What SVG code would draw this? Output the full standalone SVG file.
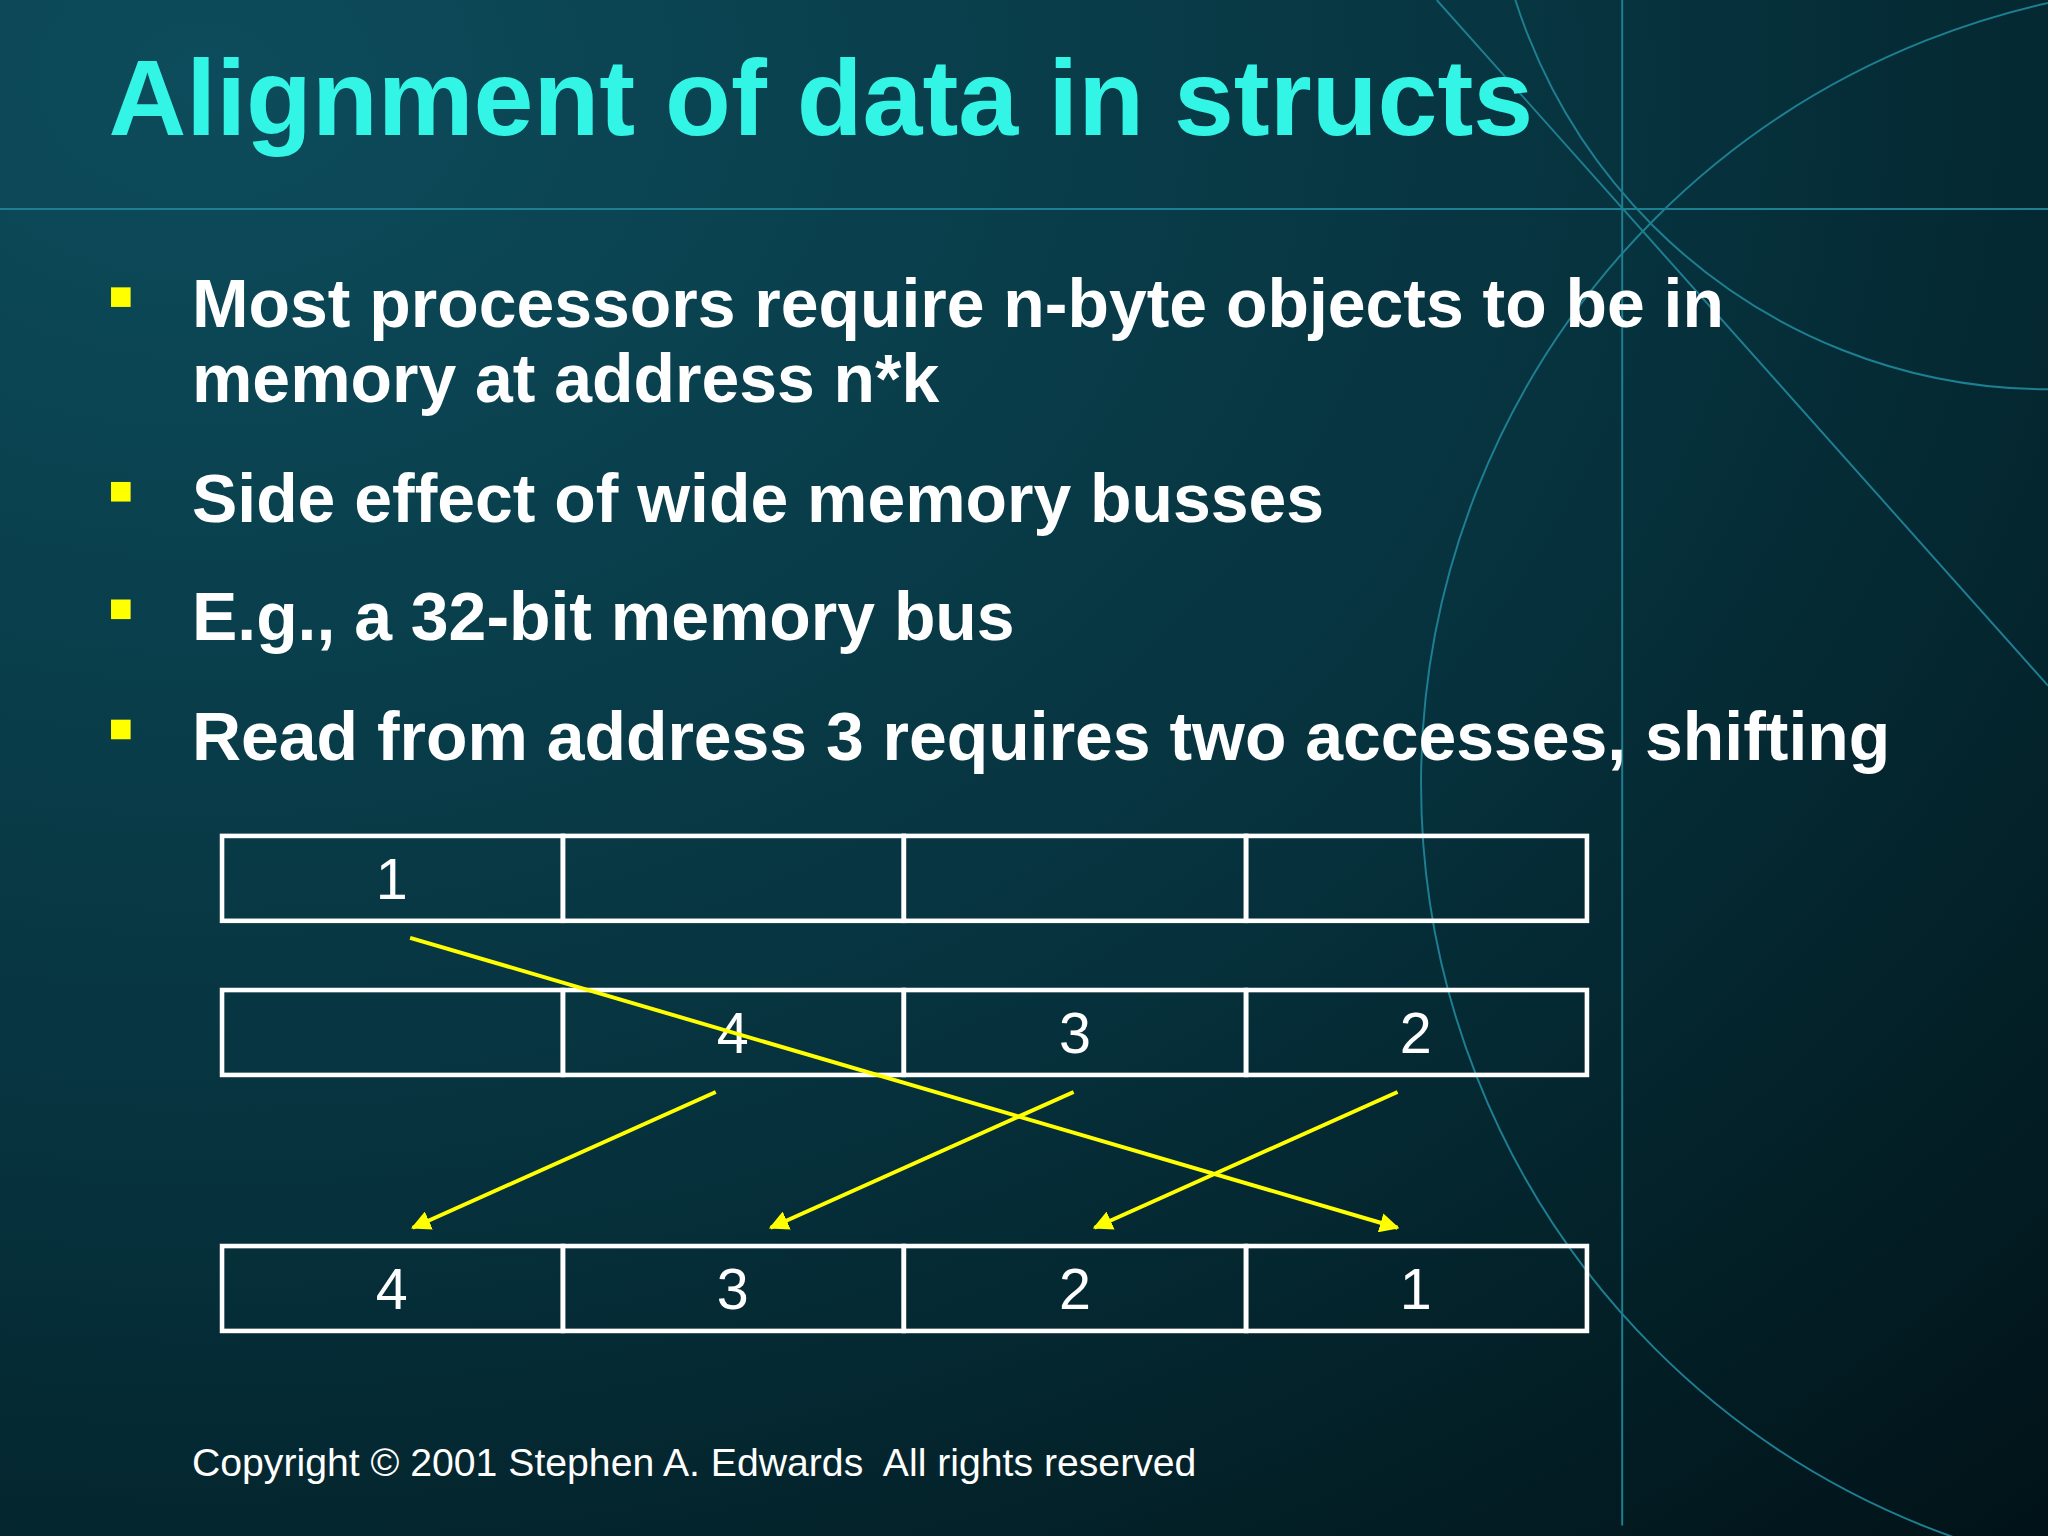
<svg xmlns="http://www.w3.org/2000/svg" width="2048" height="1536" viewBox="0 0 2048 1536">
<defs>
<radialGradient id="bg" cx="0.1" cy="0.05" r="1.3">
<stop offset="0" stop-color="#0d4c5c"/>
<stop offset="0.55" stop-color="#06323d"/>
<stop offset="1" stop-color="#011318"/>
</radialGradient>
<marker id="ah" viewBox="0 0 10 10" refX="9" refY="5" markerWidth="5" markerHeight="5" orient="auto">
<path d="M0,0 L10,5 L0,10 z" fill="#ffff00"/>
</marker>
<style>
.deco{fill:none;stroke:#1e7f93;stroke-width:1.5}
.bul{fill:#ffff00}
.bt{font-family:"Liberation Sans",Arial,sans-serif;font-weight:bold;font-size:52px;fill:#ffffff}
.cell{fill:none;stroke:#ffffff;stroke-width:3.5}
.num{font-family:"Liberation Sans",Arial,sans-serif;font-size:44px;fill:#ffffff;text-anchor:middle}
.arr{stroke:#ffff00;stroke-width:3;fill:none;marker-end:url(#ah)}
</style>
</defs>
<rect width="2048" height="1536" fill="url(#bg)"/>
<g transform="scale(1.30612)">
<g id="decor">
<line class="deco" x1="0" y1="160" x2="1568" y2="160"/>
<line class="deco" x1="1242" y1="0" x2="1242" y2="1168"/>
<line class="deco" x1="1100" y1="0" x2="1568" y2="525"/>
<circle class="deco" cx="1568" cy="-130" r="428"/>
<circle class="deco" cx="1700" cy="600" r="612"/>
</g>
<g id="title"><text x="83" y="103" font-family="Liberation Sans,Arial,sans-serif" font-weight="bold" font-size="82.5" fill="#33f5e6">Alignment of data in structs</text></g>
<g id="bullets">
<rect class="bul" x="85" y="220" width="15" height="15"/>
<rect class="bul" x="85" y="369" width="15" height="15"/>
<rect class="bul" x="85" y="459" width="15" height="15"/>
<rect class="bul" x="85" y="551" width="15" height="15"/>
<text class="bt" x="147" y="250">Most processors require n-byte objects to be in</text>
<text class="bt" x="147" y="308">memory at address n*k</text>
<text class="bt" x="147" y="400">Side effect of wide memory busses</text>
<text class="bt" x="147" y="490">E.g., a 32-bit memory bus</text>
<text class="bt" x="147" y="582">Read from address 3 requires two accesses, shifting</text>
</g>
<g id="row1">
<rect class="cell" x="170" y="640" width="261" height="65"/><rect class="cell" x="431" y="640" width="261" height="65"/><rect class="cell" x="692" y="640" width="262" height="65"/><rect class="cell" x="954" y="640" width="261" height="65"/>
<text class="num" x="300" y="688">1</text>
</g>
<g id="row2">
<rect class="cell" x="170" y="758" width="261" height="65"/><rect class="cell" x="431" y="758" width="261" height="65"/><rect class="cell" x="692" y="758" width="262" height="65"/><rect class="cell" x="954" y="758" width="261" height="65"/>
<text class="num" x="561" y="806">4</text><text class="num" x="823" y="806">3</text><text class="num" x="1084" y="806">2</text>
</g>
<g id="row3">
<rect class="cell" x="170" y="954" width="261" height="65"/><rect class="cell" x="431" y="954" width="261" height="65"/><rect class="cell" x="692" y="954" width="262" height="65"/><rect class="cell" x="954" y="954" width="261" height="65"/>
<text class="num" x="300" y="1002">4</text><text class="num" x="561" y="1002">3</text><text class="num" x="823" y="1002">2</text><text class="num" x="1084" y="1002">1</text>
</g>
<g id="connectors">
<line class="arr" x1="314" y1="718" x2="1070" y2="940"/>
<line class="arr" x1="548" y1="836" x2="316" y2="940"/>
<line class="arr" x1="822" y1="836" x2="590" y2="940"/>
<line class="arr" x1="1070" y1="836" x2="838" y2="940"/>
</g>
<g id="footer"><text x="147" y="1130" xml:space="preserve" font-family="Liberation Sans,Arial,sans-serif" font-size="30" fill="#ffffff">Copyright © 2001 Stephen A. Edwards  All rights reserved</text></g>
</g>
</svg>
